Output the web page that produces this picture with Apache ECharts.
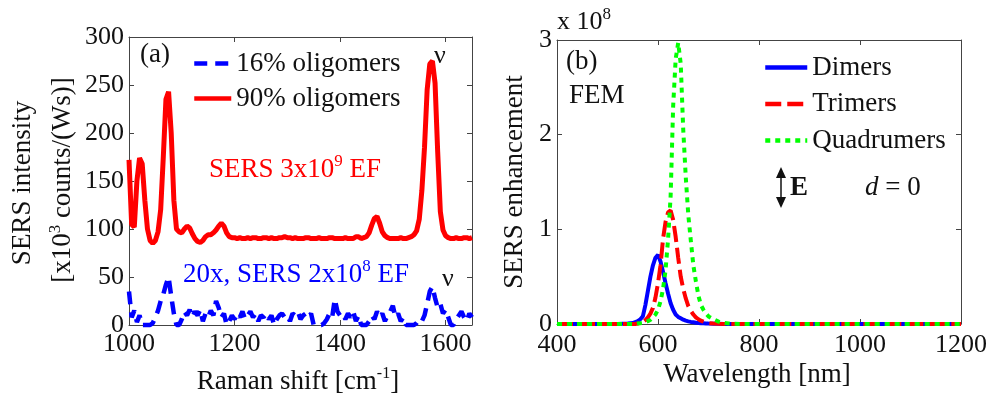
<!DOCTYPE html>
<html>
<head>
<meta charset="utf-8">
<script src="https://cdn.jsdelivr.net/npm/echarts@6/dist/echarts.min.js"></script>
<style>html,body{margin:0;padding:0;background:#fff}#c{width:991px;height:398px}</style>
</head>
<body>
<div id="c"></div>
<script>
// ---------- Panel (a) data ----------
const ramanShift = [1000,1005,1010,1015,1020,1025,1030,1035,1040,1045,1050,1055,1060,1065,1070,1075,1080,1085,1090,1095,
1100,1105,1110,1115,1120,1125,1130,1135,1140,1145,1150,1155,1160,1165,1170,1175,1180,1185,1190,1195,
1200,1205,1210,1215,1220,1225,1230,1235,1240,1245,1250,1255,1260,1265,1270,1275,1280,1285,1290,1295,
1300,1305,1310,1315,1320,1325,1330,1335,1340,1345,1350,1355,1360,1365,1370,1375,1380,1385,1390,1395,
1400,1405,1410,1415,1420,1425,1430,1435,1440,1445,1450,1455,1460,1465,1470,1475,1480,1485,1490,1495,
1500,1505,1510,1515,1520,1525,1530,1535,1540,1545,1550,1555,1560,1565,1570,1575,1580,1585,1590,1595,
1600,1605,1610,1615,1620,1625,1630,1635,1640,1645,1650];
const oligomers90 = [172,105,102,150,174,168,130,100,88,85,88,97,120,175,235,243,200,130,100,97,
96,100,103,101,95,90,87,86,88,92,94,94,96,99,103,106,103,96,92,91,
91,90,91,90,90,91,90,91,91,90,90,91,91,90,91,90,90,91,91,92,
91,91,90,91,90,90,90,91,91,90,90,90,91,90,90,90,91,91,90,90,
90,90,91,90,90,90,92,92,90,91,92,96,104,111,113,106,97,93,91,90,
90,90,90,91,90,90,91,92,94,98,110,140,185,245,272,275,252,180,118,99,
93,91,90,90,91,90,90,91,91,90,91];
const oligomers16 = [35,8,15,3,10,0,0,0,0,2,8,15,25,32,42,50,30,12,0,0,
6,14,10,16,8,14,10,16,4,12,8,15,10,25,18,8,12,0,4,10,
6,12,8,14,6,10,14,8,12,4,10,8,12,6,10,0,6,10,12,8,
10,4,12,10,14,6,10,12,8,12,0,0,0,0,2,6,12,8,27,14,
10,12,6,12,8,14,4,10,0,0,0,4,10,6,14,8,12,4,10,14,
20,8,12,4,8,0,0,0,0,2,6,4,10,22,35,40,28,18,22,12,
16,8,0,0,6,10,14,8,4,12,8];
const ramanTicks = [1000,1200,1400,1600];
const intensityTicks = [0,50,100,150,200,250,300];

// ---------- Panel (b) data (units of 1e8) ----------
const wavelength = [400,450,500,520,540,550,555,560,565,570,575,580,585,590,595,600,605,610,615,620,
625,630,635,640,645,650,655,660,665,670,675,680,685,690,695,700,710,720,730,740,750,775,800,850,900,1000,1100,1200];
const dimers = [0,0,0,0,0.005,0.01,0.02,0.03,0.05,0.08,0.2,0.35,0.5,0.62,0.7,0.73,0.66,0.55,0.43,0.32,
0.22,0.15,0.1,0.075,0.06,0.045,0.035,0.028,0.022,0.018,0.014,0.011,0.009,0.007,0.005,0.004,0.003,0.002,0.001,0,0,0,0,0,0,0,0,0];
const trimers = [0,0,0,0,0,0,0,0.005,0.01,0.02,0.04,0.07,0.11,0.17,0.28,0.43,0.62,0.9,1.08,1.18,
1.2,1.1,0.92,0.7,0.5,0.37,0.27,0.19,0.14,0.1,0.07,0.05,0.035,0.025,0.015,0.01,0.005,0.002,0,0,0,0,0,0,0,0,0,0];
const quadrumers = [0,0,0,0,0,0,0,0.005,0.008,0.01,0.02,0.03,0.045,0.07,0.1,0.15,0.24,0.37,0.57,0.9,
1.35,2.3,2.8,2.97,2.75,2.05,1.55,1.15,0.88,0.62,0.45,0.3,0.2,0.15,0.11,0.08,0.05,0.025,0.012,0.005,0.002,0,0,0,0,0,0,0];
const wavelengthTicks = [400,600,800,1000,1200];
const enhancementTicks = [0,1,2,3];

const FONT = '"Liberation Serif", "Times New Roman", serif';
const INK = '#111';
const AXIS = '#444';
const TICK_FS = 26;
const TXT_FS = 27;
const chart = echarts.init(document.getElementById('c'), null, {renderer: 'canvas'});

function pairs(xs, ys) { return xs.map((x, i) => [x, ys[i]]); }
const plain = v => String(v);

function axisBase(extra) {
  return Object.assign({
    type: 'value',
    axisLine: {show: true, onZero: false, lineStyle: {color: AXIS, width: 1}},
    axisTick: {show: true, inside: true, length: 5, lineStyle: {color: AXIS}},
    splitLine: {show: false},
    axisLabel: {show: true, color: INK, fontFamily: FONT, fontSize: TICK_FS, formatter: plain},
  }, extra);
}
function noLabel(o) { o.axisLabel = {show: false}; return o; }
function lbl(margin, extra) {
  return Object.assign({color: INK, fontFamily: FONT, fontSize: TICK_FS, margin: margin, formatter: plain}, extra || {});
}

const legendText = {color: INK, fontFamily: FONT, fontSize: TXT_FS, lineHeight: 27};

const option = {
  animation: false,
  backgroundColor: '#fff',
  grid: [
    {left: 129, top: 37, width: 343, height: 288, containLabel: false},
    {left: 557, top: 40, width: 404, height: 284, containLabel: false}
  ],
  xAxis: [
    axisBase({gridIndex: 0, position: 'bottom', min: ramanTicks[0], max: 1650, interval: 200,
      axisLabel: lbl(6, {showMaxLabel: false})}),
    noLabel(axisBase({gridIndex: 0, position: 'top', min: ramanTicks[0], max: 1650, interval: 200})),
    axisBase({gridIndex: 1, position: 'bottom', min: wavelengthTicks[0], max: 1200, interval: 200,
      axisLabel: lbl(8)}),
    noLabel(axisBase({gridIndex: 1, position: 'top', min: wavelengthTicks[0], max: 1200, interval: 200}))
  ],
  yAxis: [
    axisBase({gridIndex: 0, position: 'left', min: intensityTicks[0], max: 300, interval: 50,
      axisLabel: lbl(5)}),
    noLabel(axisBase({gridIndex: 0, position: 'right', min: 0, max: 300, interval: 50})),
    axisBase({gridIndex: 1, position: 'left', min: enhancementTicks[0], max: 3, interval: 1,
      axisLabel: lbl(5)}),
    noLabel(axisBase({gridIndex: 1, position: 'right', min: 0, max: 3, interval: 1}))
  ],
  legend: [
    {data: ['16% oligomers', '90% oligomers'], orient: 'vertical', left: 192, top: 50, padding: 0,
      itemWidth: 37, itemHeight: 14, itemGap: 8, textStyle: legendText,
      itemStyle: {opacity: 0}, lineStyle: {width: 4.5}},
    {data: ['Dimers', 'Trimers', 'Quadrumers'], orient: 'vertical', left: 763, top: 54, padding: 0,
      itemWidth: 42, itemHeight: 14, itemGap: 9.5, textStyle: legendText,
      itemStyle: {opacity: 0}, lineStyle: {width: 4.5}}
  ],
  series: [
    {name: '16% oligomers', type: 'line', xAxisIndex: 0, yAxisIndex: 0, showSymbol: false, symbol: 'none',
      data: pairs(ramanShift, oligomers16), color: '#0000ff',
      lineStyle: {color: '#0000ff', width: 4.5, type: [13, 8]}, clip: false},
    {name: '90% oligomers', type: 'line', xAxisIndex: 0, yAxisIndex: 0, showSymbol: false, symbol: 'none',
      data: pairs(ramanShift, oligomers90), color: '#ff0000',
      lineStyle: {color: '#ff0000', width: 5}},
    {name: 'Dimers', type: 'line', xAxisIndex: 2, yAxisIndex: 2, showSymbol: false, symbol: 'none',
      data: pairs(wavelength, dimers), color: '#0000ff',
      lineStyle: {color: '#0000ff', width: 4}, clip: false},
    {name: 'Trimers', type: 'line', xAxisIndex: 2, yAxisIndex: 2, showSymbol: false, symbol: 'none',
      data: pairs(wavelength, trimers), color: '#ff0000',
      lineStyle: {color: '#ff0000', width: 4, type: [16, 6]}, clip: false},
    {name: 'Quadrumers', type: 'line', xAxisIndex: 2, yAxisIndex: 2, showSymbol: false, symbol: 'none',
      data: pairs(wavelength, quadrumers), color: '#00ff00',
      lineStyle: {color: '#00ff00', width: 4, type: [5, 5]}, clip: false}
  ],
  graphic: [
    // panel (a) y title
    {type: 'text', x: 23, y: 183, rotation: Math.PI / 2,
      style: {text: 'SERS intensity', font: TXT_FS + 'px ' + FONT, fill: INK, align: 'center', verticalAlign: 'middle'}},
    {type: 'text', x: 63, y: 180, rotation: Math.PI / 2,
      style: {text: '{n|[x10}{s|3}{n| counts/(Ws)]}', align: 'center', verticalAlign: 'middle', fill: INK,
        rich: {n: {fontFamily: FONT, fontSize: TXT_FS, lineHeight: 32, fill: INK},
               s: {fontFamily: FONT, fontSize: 17, lineHeight: 17, verticalAlign: 'top', fill: INK}}}},
    // panel (a) x title
    {type: 'text', x: 298, y: 382,
      style: {text: '{n|Raman shift [cm}{s|-1}{n|]}', align: 'center', verticalAlign: 'middle', fill: INK,
        rich: {n: {fontFamily: FONT, fontSize: TXT_FS, lineHeight: 32, fill: INK},
               s: {fontFamily: FONT, fontSize: 16, lineHeight: 16, verticalAlign: 'top', fill: INK}}}},
    {type: 'text', x: 140, y: 55,
      style: {text: '(a)', font: TXT_FS + 'px ' + FONT, fill: INK, align: 'left', verticalAlign: 'middle'}},
    {type: 'text', x: 440, y: 56,
      style: {text: 'ν', font: '26px ' + FONT, fill: INK, align: 'center', verticalAlign: 'middle'}},
    {type: 'text', x: 209, y: 170,
      style: {text: '{n|SERS 3x10}{s|9}{n| EF}', align: 'left', verticalAlign: 'middle',
        rich: {n: {fontFamily: FONT, fontSize: TXT_FS, lineHeight: 34, fill: '#ff0000'},
               s: {fontFamily: FONT, fontSize: 17, lineHeight: 17, verticalAlign: 'top', fill: '#ff0000'}}}},
    {type: 'text', x: 183, y: 275,
      style: {text: '{n|20x, SERS 2x10}{s|8}{n| EF}', align: 'left', verticalAlign: 'middle',
        rich: {n: {fontFamily: FONT, fontSize: TXT_FS, lineHeight: 34, fill: '#0000ff'},
               s: {fontFamily: FONT, fontSize: 17, lineHeight: 17, verticalAlign: 'top', fill: '#0000ff'}}}},
    {type: 'text', x: 448, y: 279,
      style: {text: 'ν', font: '26px ' + FONT, fill: INK, align: 'center', verticalAlign: 'middle'}},
    // panel (b)
    {type: 'text', x: 515, y: 182, rotation: Math.PI / 2,
      style: {text: 'SERS enhancement', font: TXT_FS + 'px ' + FONT, fill: INK, align: 'center', verticalAlign: 'middle'}},
    {type: 'text', x: 757, y: 375,
      style: {text: 'Wavelength [nm]', font: TXT_FS + 'px ' + FONT, fill: INK, align: 'center', verticalAlign: 'middle'}},
    {type: 'text', x: 557, y: 22,
      style: {text: '{n|x 10}{s|8}', align: 'left', verticalAlign: 'middle',
        rich: {n: {fontFamily: FONT, fontSize: TICK_FS, lineHeight: 32, fill: INK},
               s: {fontFamily: FONT, fontSize: 17, lineHeight: 17, verticalAlign: 'top', fill: INK}}}},
    {type: 'text', x: 566, y: 62,
      style: {text: '(b)', font: TXT_FS + 'px ' + FONT, fill: INK, align: 'left', verticalAlign: 'middle'}},
    {type: 'text', x: 569, y: 96,
      style: {text: 'FEM', font: TXT_FS + 'px ' + FONT, fill: INK, align: 'left', verticalAlign: 'middle'}},
    // double arrow for E
    {type: 'line', shape: {x1: 781, y1: 172, x2: 781, y2: 203}, style: {stroke: INK, lineWidth: 1.5}},
    {type: 'polygon', shape: {points: [[781, 167], [776, 178], [786, 178]]}, style: {fill: INK}},
    {type: 'polygon', shape: {points: [[781, 208], [776, 197], [786, 197]]}, style: {fill: INK}},
    {type: 'text', x: 790, y: 188,
      style: {text: 'E', font: 'bold ' + TXT_FS + 'px ' + FONT, fill: INK, align: 'left', verticalAlign: 'middle'}},
    {type: 'text', x: 865, y: 188,
      style: {text: '{i|d}{n| = 0}', align: 'left', verticalAlign: 'middle',
        rich: {i: {fontFamily: FONT, fontSize: TXT_FS, fontStyle: 'italic', fill: INK},
               n: {fontFamily: FONT, fontSize: TXT_FS, fill: INK}}}}
  ]
};
chart.setOption(option);
</script>
</body>
</html>
